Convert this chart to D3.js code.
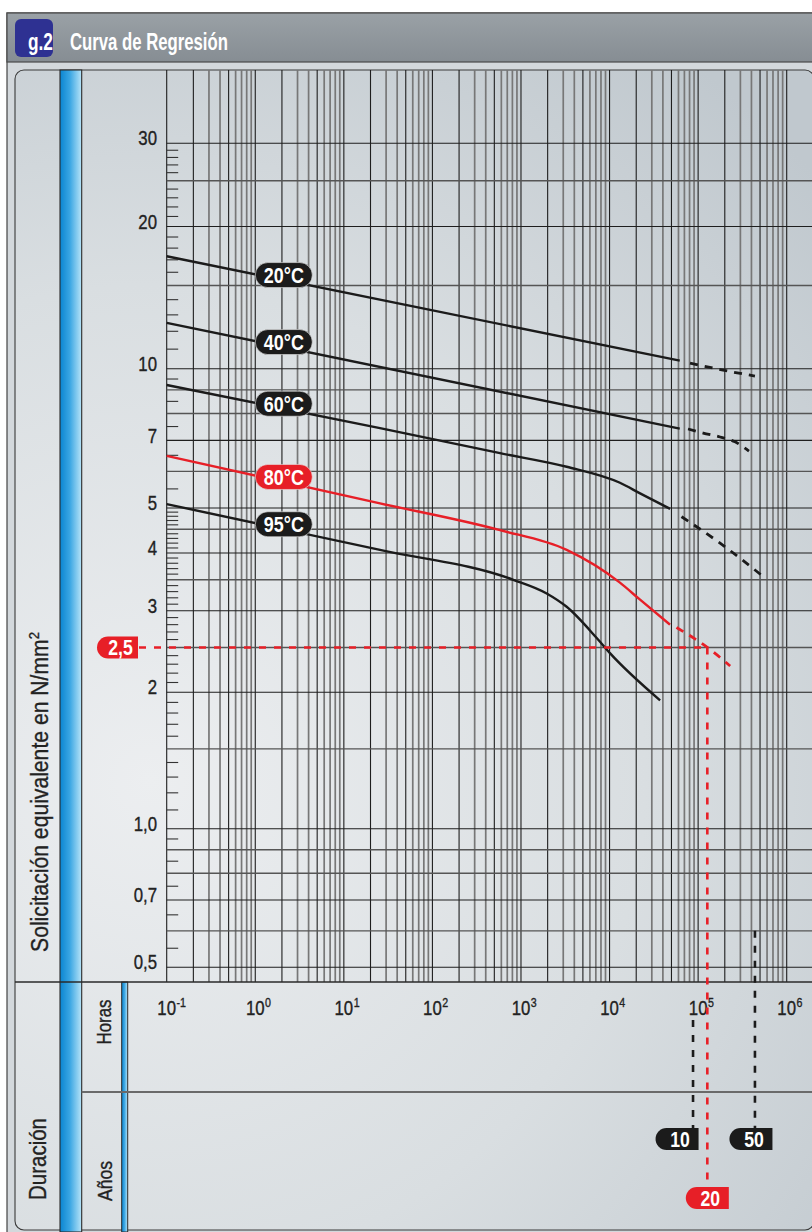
<!DOCTYPE html>
<html>
<head>
<meta charset="utf-8">
<script src="https://cdnjs.cloudflare.com/ajax/libs/d3/7.8.5/d3.min.js"></script>
<style>
  body { margin: 0; background: #fff; }
  svg { display: block; }
  text { font-family: "Liberation Sans", Arial, sans-serif; }
</style>
</head>
<body>
<div id="chart"></div>
<script>
// ---- values ----
var xTickValues = [0.1, 1, 10, 100, 1000, 1e4, 1e5, 1e6];
var xTickExponents = ["-1", "0", "1", "2", "3", "4", "5", "6"];
var yTickValues = [30, 20, 10, 7, 5, 4, 3, 2, 1, 0.7, 0.5];
var yTickLabels = ["30", "20", "10", "7", "5", "4", "3", "2", "1,0", "0,7", "0,5"];
var yGridValues = [30, 25, 20, 15, 10, 9, 8, 7, 6, 5, 4.5, 4, 3.5, 3, 2.5, 2, 1.5, 1, 0.9, 0.8, 0.7, 0.6, 0.5];
var yMinorTicks = [29, 28, 27, 26, 24, 23, 22, 21, 19, 18, 17, 16, 14, 13, 12, 11, 9.5, 8.5, 7.5, 6.5, 5.5,
  4.9, 4.8, 4.7, 4.6, 4.4, 4.3, 4.2, 4.1, 3.9, 3.8, 3.7, 3.6, 3.4, 3.3, 3.2, 3.1, 2.9, 2.8, 2.7, 2.6,
  2.4, 2.3, 2.2, 2.1, 1.9, 1.8, 1.7, 1.6, 1.4, 1.3, 1.2, 1.1, 0.95, 0.85, 0.75, 0.65, 0.55];

// regression curves: [hours, N/mm2]
var curveNames = ["20°C", "40°C", "60°C", "80°C", "95°C"];
var solid20 = [[0.1, 17.3], [6.2e4, 10.4]];
var dashed20 = [[8.1e4, 10.28], [1.85e5, 9.94], [4.38e5, 9.64]];
var solid40 = [[0.1, 12.5], [6.2e4, 7.42]];
var dashed40 = [[7.7e4, 7.41], [1.14e5, 7.26], [1.77e5, 7.12], [2.61e5, 6.95], [3.75e5, 6.64]];
var solid60 = [[0.1, 9.22], [25.6, 7.44], [580, 6.57], [3280, 6.14], [1.31e4, 5.67], [2.21e4, 5.38], [4.82e4, 4.98]];
var dashed60 = [[6.5e4, 4.79], [1.77e5, 4.2], [5.7e5, 3.53]];
var solid80 = [[0.1, 6.48], [25.6, 5.12], [580, 4.48], [3280, 4.06], [1.31e4, 3.45], [2.21e4, 3.17], [4.82e4, 2.8]];
var dashed80 = [[5.7e4, 2.76], [1.27e5, 2.5], [2.3e5, 2.28]];
var solid95 = [[0.1, 5.1], [25.6, 4.06], [819, 3.5], [1950, 3.27], [3280, 3.06], [7160, 2.62], [1.01e4, 2.43], [3.72e4, 1.92]];
var dashed95 = [];
var labelHours = 2.1;

// reading example: 2,5 N/mm2 and durations in years
var refStress = 2.5;
var refStressLabel = "2,5";
var yearLabels = ["10", "50", "20"];
var yearHours = [8.76e4, 4.38e5, 1.27e5];

var series = [
  { name: curveNames[0], solid: solid20, dashed: dashed20 },
  { name: curveNames[1], solid: solid40, dashed: dashed40 },
  { name: curveNames[2], solid: solid60, dashed: dashed60 },
  { name: curveNames[3], solid: solid80, dashed: dashed80 },
  { name: curveNames[4], solid: solid95, dashed: dashed95 }
];

// ---- layout ----
var width = 812, height = 1232;
var plotTop = 70, plotBottom = 982, rightEdge = 812;
var red = "#e71f27", ink = "#1b1b1b";
var narrow = 0.82;   // condensed look for the type

var svg = d3.select("#chart").append("svg")
    .attr("width", width)
    .attr("height", height);
var defs = svg.append("defs");

var x = d3.scaleLog().domain([0.1, 1e6]).range([166.7, 786.7]);
// piecewise log, the printed grid is not quite regular
var y = d3.scaleLog().domain([0.5, 1, 2, 10, 30]).range([967.3, 828.7, 692.3, 368.7, 143.3]);
var plotLeft = x(0.1);

// condensed text: squeeze horizontally, optionally fit to a width
function ctext(parent, x0, y0, size, str, opts) {
  opts = opts || {};
  var t = parent.append("text")
      .attr("font-size", size)
      .attr("fill", opts.fill || "#222")
      .attr("text-anchor", opts.anchor || "middle");
  if (opts.bold) t.attr("font-weight", "bold");
  if (opts.dy) t.attr("dy", opts.dy);
  if (opts.heavy) t.attr("stroke", opts.fill || "#222").attr("stroke-width", 0.35);
  if (opts.parts) {
    opts.parts.forEach(function(p) {
      var s = t.append("tspan").text(p.t);
      if (p.sup) s.attr("font-size", size * 0.62).attr("dy", -size * 0.38);
    });
  } else {
    t.text(str);
  }
  var sx = narrow;
  if (opts.fit) sx = opts.fit / t.node().getComputedTextLength();
  t.attr("transform", "translate(" + x0 + "," + y0 + ")" + (opts.rot ? " rotate(" + opts.rot + ")" : "") +
    " scale(" + sx + ",1)");
  return t;
}

// gradients
var gBar = defs.append("linearGradient").attr("id", "titlebar").attr("x1", 0).attr("y1", 0).attr("x2", 0).attr("y2", 1);
gBar.append("stop").attr("offset", 0).attr("stop-color", "#9aa1a6");
gBar.append("stop").attr("offset", 1).attr("stop-color", "#868d93");

var gPanel = defs.append("radialGradient").attr("id", "panel")
    .attr("gradientUnits", "userSpaceOnUse")
    .attr("cx", 150).attr("cy", 780).attr("r", 900);
gPanel.append("stop").attr("offset", 0).attr("stop-color", "#eceef0");
gPanel.append("stop").attr("offset", 0.55).attr("stop-color", "#d9dee1");
gPanel.append("stop").attr("offset", 1).attr("stop-color", "#c0c8ce");

var gBlue = defs.append("linearGradient").attr("id", "blue").attr("x1", 0).attr("y1", 0).attr("x2", 1).attr("y2", 0);
gBlue.append("stop").attr("offset", 0).attr("stop-color", "#0a85d1");
gBlue.append("stop").attr("offset", 0.45).attr("stop-color", "#3aa6e3");
gBlue.append("stop").attr("offset", 1).attr("stop-color", "#b8e4f8");

// frame + title
svg.append("rect").attr("x", 7).attr("y", 13).attr("width", 840).attr("height", 1260)
    .attr("fill", "#d3d8dc").attr("stroke", "#444").attr("stroke-width", 1.2);
svg.append("rect").attr("x", 7).attr("y", 13).attr("width", 840).attr("height", 49)
    .attr("fill", "url(#titlebar)").attr("stroke", "#4a4a4a").attr("stroke-width", 1.2);
svg.append("rect").attr("x", 15).attr("y", 19).attr("width", 38).attr("height", 38).attr("rx", 6)
    .attr("fill", "#2e3192");
ctext(svg, 53, 50, 23, "g.2", { anchor: "end", bold: true, fill: "#fff", fit: 25 });
ctext(svg, 70, 50, 23, "Curva de Regresión", { anchor: "start", bold: true, fill: "#fff", fit: 158 });

// panel
svg.append("rect").attr("x", 15).attr("y", plotTop).attr("width", 799).attr("height", 1160).attr("rx", 9)
    .attr("fill", "url(#panel)").attr("stroke", "#3a3a3a").attr("stroke-width", 1.1);

// blue bars
svg.append("rect").attr("x", 60).attr("y", plotTop).attr("width", 21.7).attr("height", height - plotTop)
    .attr("fill", "url(#blue)").attr("stroke", "#2a2a2a").attr("stroke-width", 1.1);
svg.append("rect").attr("x", 121.7).attr("y", plotBottom).attr("width", 6).attr("height", height - plotBottom)
    .attr("fill", "url(#blue)").attr("stroke", "#2a2a2a").attr("stroke-width", 1);

// ---- grid ----
var vGrid = [];
for (var k = -1; k <= 5; k++) {
  for (var m = 1; m <= 9; m++) { vGrid.push({ v: m * Math.pow(10, k), m: m }); }
}
vGrid.push({ v: 1e6, m: 1 });
function darkLine(m) { return [1, 2, 5].indexOf(m) > -1; }

var grid = svg.append("g");
grid.selectAll(".vg").data(vGrid).enter().append("line")
    .attr("class", "vg")
    .attr("x1", function(d) { return x(d.v); })
    .attr("x2", function(d) { return x(d.v); })
    .attr("y1", plotTop).attr("y2", plotBottom)
    .attr("stroke", function(d) { return darkLine(d.m) ? "#1e1e1e" : "#777"; })
    .attr("stroke-width", function(d) { return darkLine(d.m) ? 1.1 : 1.7; });

grid.selectAll(".hg").data(yGridValues).enter().append("line")
    .attr("class", "hg")
    .attr("x1", plotLeft).attr("x2", rightEdge)
    .attr("y1", function(d) { return y(d); })
    .attr("y2", function(d) { return y(d); })
    .attr("stroke", function(d) { return yTickValues.indexOf(d) > -1 ? "#1e1e1e" : "#555"; })
    .attr("stroke-width", function(d) { return yTickValues.indexOf(d) > -1 ? 1.1 : 1.4; });

grid.selectAll(".mt").data(yMinorTicks).enter().append("line")
    .attr("class", "mt")
    .attr("x1", plotLeft).attr("x2", plotLeft + 11.5)
    .attr("y1", function(d) { return y(d); })
    .attr("y2", function(d) { return y(d); })
    .attr("stroke", "#333").attr("stroke-width", 1.1);

// section lines
svg.append("line").attr("x1", 15).attr("x2", rightEdge).attr("y1", plotBottom).attr("y2", plotBottom)
    .attr("stroke", "#2a2a2a").attr("stroke-width", 1.4);
svg.append("line").attr("x1", 81.7).attr("x2", rightEdge).attr("y1", 1092).attr("y2", 1092)
    .attr("stroke", "#6a6a6a").attr("stroke-width", 2);

// ---- axis labels ----
yTickValues.forEach(function(v, i) {
  ctext(svg, 157, y(v) - 5, 20.5, yTickLabels[i], { anchor: "end", dy: "0.35em", heavy: true });
});

xTickValues.forEach(function(v, i) {
  ctext(svg, x(v), 1015, 20.5, "10", { heavy: true });
  ctext(svg, x(v) + 9.8, 1007, 13, xTickExponents[i], { anchor: "start", heavy: true });
});

ctext(svg, 40, 792, 24, null, { rot: -90, dy: "0.35em", fit: 320, heavy: true,
  parts: [{ t: "Solicitación equivalente en N/mm" }, { t: "2", sup: true }] });
ctext(svg, 38, 1159, 23, "Duración", { rot: -90, dy: "0.35em", fit: 82, heavy: true });
ctext(svg, 104, 1022, 21, "Horas", { rot: -90, dy: "0.35em", fit: 45, heavy: true });
ctext(svg, 105, 1181, 21, "Años", { rot: -90, dy: "0.35em", fit: 40, heavy: true });

// ---- curves ----
var line = d3.line()
    .x(function(d) { return x(d[0]); })
    .y(function(d) { return y(d[1]); })
    .curve(d3.curveMonotoneX);

var curves = svg.append("g");
series.forEach(function(s) {
  var col = s.name === "80°C" ? red : ink;
  curves.append("path").attr("d", line(s.solid))
      .attr("fill", "none").attr("stroke", col).attr("stroke-width", 2.4);
  if (s.dashed.length) {
    curves.append("path").attr("d", line(s.dashed))
        .attr("fill", "none").attr("stroke", col).attr("stroke-width", 2.8)
        .attr("stroke-dasharray", "8,7");
  }
});

// ---- reading example ----
var ref = svg.append("g");
var yRef = y(refStress);
var x20 = x(yearHours[2]);
ref.append("line").attr("x1", 139).attr("x2", x20).attr("y1", yRef).attr("y2", yRef)
    .attr("stroke", red).attr("stroke-width", 2.6).attr("stroke-dasharray", "7,8");
ref.append("line").attr("x1", x20).attr("x2", x20).attr("y1", yRef).attr("y2", 1187)
    .attr("stroke", red).attr("stroke-width", 2.6).attr("stroke-dasharray", "7,8");

var yearTop = { "10": 1020, "50": y(0.6) };
yearLabels.forEach(function(lab, i) {
  if (lab === "20") return;
  var xx = x(yearHours[i]);
  ref.append("line").attr("x1", xx).attr("x2", xx).attr("y1", yearTop[lab]).attr("y2", 1128)
      .attr("stroke", ink).attr("stroke-width", 2.6).attr("stroke-dasharray", "7,8");
});

// tab shaped badge: round left, square right
function tab(x0, y0, w, h, fill, label) {
  var r = h / 2;
  svg.append("path")
      .attr("d", "M" + (x0 + r) + "," + y0 + "H" + (x0 + w) + "V" + (y0 + h) + "H" + (x0 + r) +
        "A" + r + "," + r + " 0 0 1 " + (x0 + r) + "," + y0 + "Z")
      .attr("fill", fill);
  ctext(svg, x0 + w / 2 + 3, y0 + h / 2, 21.5, label, { bold: true, fill: "#fff", dy: "0.36em" });
}
tab(97, yRef - 11, 41, 22, red, refStressLabel);
var tabShift = { "10": -16, "50": -4, "20": 0 };
yearLabels.forEach(function(lab, i) {
  var cx = x(yearHours[i]) + tabShift[lab];
  var top = lab === "20" ? 1187 : 1128;
  tab(cx - 21.5, top, 43, 22, lab === "20" ? red : ink, lab);
});

// ---- temperature pills ----
function yAt(pts, t) {
  var px = x(t);
  for (var j = 0; j < pts.length - 1; j++) {
    var a = x(pts[j][0]), b = x(pts[j + 1][0]);
    if (px >= a && px <= b) {
      var f = (px - a) / (b - a);
      return y(pts[j][1]) + f * (y(pts[j + 1][1]) - y(pts[j][1]));
    }
  }
  return y(pts[0][1]);
}
series.forEach(function(s) {
  var cx = x(labelHours), cy = yAt(s.solid, labelHours) - 5;
  svg.append("rect").attr("x", cx - 28.5).attr("y", cy - 12.5).attr("width", 57).attr("height", 25)
      .attr("rx", 12.5).attr("fill", s.name === "80°C" ? red : ink)
      .attr("stroke", "#e8e8e8").attr("stroke-width", 0.6);
  ctext(svg, cx, cy, 22.5, s.name, { bold: true, fill: "#fff", dy: "0.36em", fit: 40 });
});
</script>
</body>
</html>
